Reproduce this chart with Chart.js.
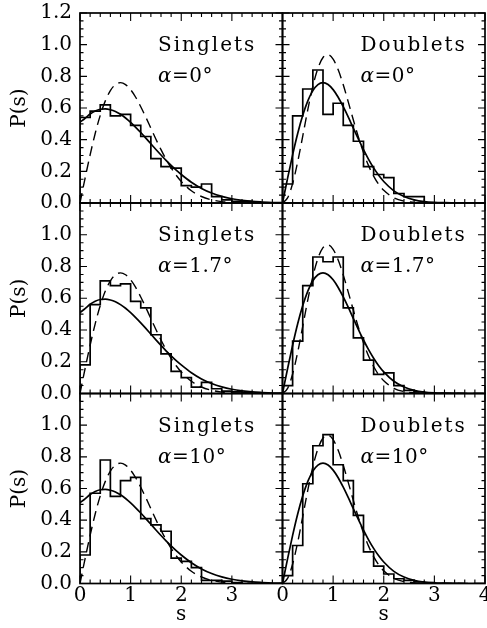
<!DOCTYPE html>
<html>
<head>
<meta charset="utf-8">
<title>P(s) singlets / doublets</title>
<script src="https://cdn.jsdelivr.net/npm/chart.js@4.4.1/dist/chart.umd.min.js"></script>
<style>
  html, body { margin: 0; padding: 0; background: #fff; overflow: hidden; }
  #wrap { position: relative; width: 487px; height: 628px; overflow: hidden; }
  #wrap canvas { position: absolute; left: 0; }
</style>
</head>
<body>
<div id="wrap"></div>
<script>
// histogram bins (left edges, width 0.2)
const binLeft = [0.0, 0.2, 0.4, 0.6, 0.8, 1.0, 1.2, 1.4, 1.6, 1.8, 2.0, 2.2, 2.4, 2.6, 2.8, 3.0, 3.2, 3.4];
const binWidth = 0.2;

// measured histograms
const singletsA0  = [0.54, 0.58, 0.62, 0.55, 0.56, 0.49, 0.42, 0.28, 0.23, 0.22, 0.11, 0.10, 0.12, 0.04, 0.02, 0.01, 0.01, 0.00];
const doubletsA0  = [0.12, 0.55, 0.72, 0.84, 0.56, 0.63, 0.49, 0.39, 0.23, 0.18, 0.16, 0.06, 0.04, 0.04, 0.00, 0.00, 0.00, 0.00];
const singletsA17 = [0.18, 0.56, 0.71, 0.68, 0.69, 0.58, 0.54, 0.37, 0.25, 0.14, 0.10, 0.04, 0.07, 0.03, 0.015, 0.01, 0.005, 0.00];
const doubletsA17 = [0.05, 0.33, 0.68, 0.86, 0.83, 0.86, 0.54, 0.35, 0.21, 0.12, 0.13, 0.05, 0.02, 0.01, 0.00, 0.00, 0.00, 0.00];
const singletsA10 = [0.18, 0.57, 0.78, 0.55, 0.65, 0.67, 0.41, 0.37, 0.33, 0.16, 0.14, 0.10, 0.02, 0.02, 0.015, 0.005, 0.00, 0.00];
const doubletsA10 = [0.05, 0.24, 0.63, 0.87, 0.94, 0.75, 0.65, 0.43, 0.20, 0.11, 0.06, 0.03, 0.02, 0.01, 0.005, 0.00, 0.00, 0.00];

// curves, read at these s values
const sGrid = [0.0, 0.1, 0.2, 0.3, 0.4, 0.5, 0.6, 0.7, 0.8, 0.9, 1.0, 1.1, 1.2, 1.3, 1.4, 1.5, 1.6, 1.7, 1.8, 1.9, 2.0,
               2.2, 2.4, 2.6, 2.8, 3.0, 3.2, 3.4, 3.6, 3.8, 4.0];
const twoGoeCurve = [0.51, 0.535, 0.562, 0.581, 0.592, 0.594, 0.589, 0.578, 0.560, 0.537, 0.509, 0.478, 0.445, 0.410, 0.374, 0.338, 0.303, 0.269, 0.237, 0.207, 0.180,
                     0.131, 0.092, 0.063, 0.042, 0.027, 0.017, 0.010, 0.006, 0.003, 0.002];
const goeCurve = [0.0, 0.156, 0.304, 0.439, 0.554, 0.645, 0.710, 0.748, 0.760, 0.748, 0.716, 0.668, 0.608, 0.542, 0.472, 0.403, 0.337, 0.276, 0.222, 0.175, 0.136,
                  0.077, 0.041, 0.020, 0.009, 0.004, 0.002, 0.001, 0.0, 0.0, 0.0];
const gueCurve = [0.0, 0.032, 0.123, 0.260, 0.423, 0.590, 0.738, 0.851, 0.919, 0.936, 0.908, 0.841, 0.747, 0.637, 0.524, 0.416, 0.319, 0.236, 0.170, 0.118, 0.080,
                  0.033, 0.012, 0.004, 0.001, 0.0, 0.0, 0.0, 0.0, 0.0, 0.0];

// axis ticks
const xTickValues = [0, 1, 2, 3, 4];
const yTickValues = [0.0, 0.2, 0.4, 0.6, 0.8, 1.0, 1.2];

const panels = [
  { row: 0, col: 0, name: 'Singlets', angle: '0°',   hist: singletsA0,  solid: twoGoeCurve, dashed: goeCurve },
  { row: 0, col: 1, name: 'Doublets', angle: '0°',   hist: doubletsA0,  solid: goeCurve,    dashed: gueCurve },
  { row: 1, col: 0, name: 'Singlets', angle: '1.7°', hist: singletsA17, solid: twoGoeCurve, dashed: goeCurve },
  { row: 1, col: 1, name: 'Doublets', angle: '1.7°', hist: doubletsA17, solid: goeCurve,    dashed: gueCurve },
  { row: 2, col: 0, name: 'Singlets', angle: '10°',  hist: singletsA10, solid: twoGoeCurve, dashed: goeCurve },
  { row: 2, col: 1, name: 'Doublets', angle: '10°',  hist: doubletsA10, solid: goeCurve,    dashed: gueCurve }
];

// page layout (px); canvases start OFF px above the page so labels never squeeze the plot
const OFF = 30;
const CW = 500, CH = 628 + OFF;
const colLeft = [80, 282.5], colRight = [282.5, 485];
const rowTop = [13, 203, 393.5], rowBottom = [203, 393.5, 583.5];
const FONT = '"DejaVu Serif", serif';

Chart.defaults.font.family = FONT;
Chart.defaults.color = '#000';

// frame with inward ticks on all four sides + panel label
function makePanelPlugin(p) {
  return {
    id: 'panelFrame',
    afterDatasetsDraw(chart) {
      const { ctx, chartArea: a, scales: { x, y } } = chart;
      ctx.save();
      ctx.strokeStyle = '#000';
      ctx.lineWidth = 1.1;
      ctx.beginPath();
      for (let i = 0; i <= 20; i++) {
        const px = x.getPixelForValue(i * 0.2);
        const len = i % 5 === 0 ? 8 : 4;
        ctx.moveTo(px, a.bottom); ctx.lineTo(px, a.bottom - len);
        ctx.moveTo(px, a.top); ctx.lineTo(px, a.top + len);
      }
      for (let j = 0; j <= 24; j++) {
        const py = y.getPixelForValue(j * 0.05);
        const len = j % 4 === 0 ? 7 : 3.5;
        ctx.moveTo(a.left, py); ctx.lineTo(a.left + len, py);
        ctx.moveTo(a.right, py); ctx.lineTo(a.right - len, py);
      }
      ctx.stroke();
      ctx.lineWidth = 1.7;
      ctx.strokeRect(a.left, a.top, a.right - a.left, a.bottom - a.top);

      // label
      const tx = a.left + 78;
      ctx.fillStyle = '#000';
      ctx.textBaseline = 'alphabetic';
      ctx.letterSpacing = '2px';
      ctx.font = '20px ' + FONT;
      ctx.fillText(p.name, tx, a.top + 38);
      ctx.letterSpacing = '0.5px';
      ctx.font = 'italic 20px ' + FONT;
      ctx.fillText('α', tx, a.top + 69);
      const w = ctx.measureText('α').width;
      ctx.font = '20px ' + FONT;
      ctx.fillText('=' + p.angle, tx + w, a.top + 69);
      ctx.restore();
    }
  };
}

const wrap = document.getElementById('wrap');

panels.forEach(p => {
  const isLeft = p.col === 0;
  const isBottom = p.row === 2;
  const isTop = p.row === 0;

  const canvas = document.createElement('canvas');
  canvas.width = CW; canvas.height = CH;
  canvas.style.width = CW + 'px'; canvas.style.height = CH + 'px';
  canvas.style.top = (-OFF) + 'px';
  wrap.appendChild(canvas);

  const xAxisH = isBottom ? 44.5 : 0;
  const yAxisW = isLeft ? 80 : 0;

  const histData = [{ x: 0, y: 0 }]
    .concat(binLeft.map((b, i) => ({ x: b, y: p.hist[i] })))
    .concat([{ x: binLeft[binLeft.length - 1] + binWidth, y: 0 }]);

  new Chart(canvas, {
    type: 'line',
    data: {
      datasets: [
        { data: histData, stepped: 'before', borderColor: '#000', borderWidth: 1.7, pointRadius: 0, fill: false },
        { data: sGrid.map((s, i) => ({ x: s, y: p.solid[i] })), borderColor: '#000', borderWidth: 1.7,
          pointRadius: 0, cubicInterpolationMode: 'monotone', fill: false },
        { data: sGrid.map((s, i) => ({ x: s, y: p.dashed[i] })), borderColor: '#000', borderWidth: 1.4,
          borderDash: [10, 6], pointRadius: 0, cubicInterpolationMode: 'monotone', fill: false }
      ]
    },
    options: {
      responsive: false,
      animation: false,
      devicePixelRatio: 1,
      events: [],
      layout: {
        padding: {
          left: isLeft ? 0 : colLeft[1],
          right: CW - colRight[p.col],
          top: rowTop[p.row] + OFF,
          bottom: 628 - rowBottom[p.row] - xAxisH
        }
      },
      plugins: { legend: { display: false }, tooltip: { enabled: false } },
      scales: {
        x: {
          type: 'linear', min: 0, max: 4, display: isBottom,
          grid: { display: false, drawTicks: false }, border: { display: false },
          afterBuildTicks: s => { s.ticks = xTickValues.map(v => ({ value: v })); },
          afterFit: s => { s.height = xAxisH; },
          ticks: {
            font: { size: 20 }, padding: 0, maxRotation: 0, autoSkip: false,
            callback: v => (isLeft && v === 4) ? '' : String(v)
          },
          title: { display: isBottom, text: 's', font: { size: 20 }, padding: { top: 0, bottom: 1 } }
        },
        y: {
          type: 'linear', min: 0, max: 1.2, display: isLeft,
          grid: { display: false, drawTicks: false }, border: { display: false },
          afterBuildTicks: s => { s.ticks = yTickValues.map(v => ({ value: v })); },
          afterFit: s => { s.width = yAxisW; },
          ticks: {
            font: { size: 20 }, padding: 8, autoSkip: false,
            callback: v => (!isTop && Math.abs(v - 1.2) < 1e-6) ? '' : v.toFixed(1)
          },
          title: { display: isLeft, text: 'P(s)', font: { size: 20 }, padding: { top: 8, bottom: 0 } }
        }
      }
    },
    plugins: [makePanelPlugin(p)]
  });
});
</script>
</body>
</html>
